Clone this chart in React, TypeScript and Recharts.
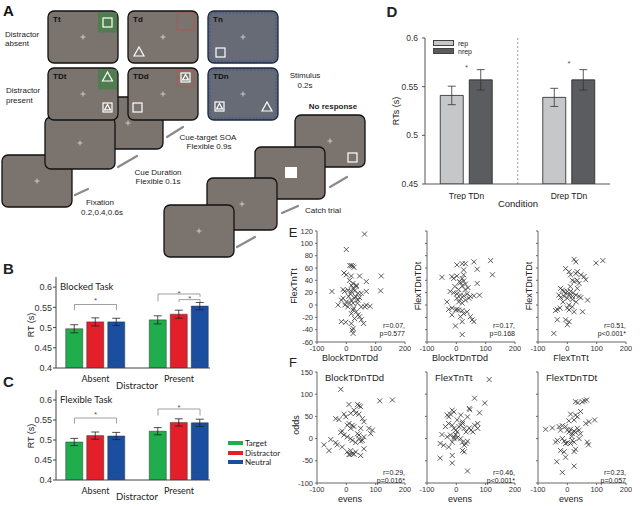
import React from 'react'
import {
  BarChart, Bar, XAxis, YAxis, ErrorBar, ReferenceLine, ReferenceDot,
  ScatterChart, Scatter,
} from 'recharts'

const FONT = '"Liberation Sans", Arial, sans-serif'
const MYRIAD = 'Lato, "Liberation Sans", sans-serif'
const INK = '#222'

// ---- panel B / C : RT by distractor condition ----
const distractorGroups = ['Absent', 'Present']
const seriesNames = ['Target', 'Distractor', 'Neutral']
const seriesColors = ['#1fae4b', '#e3202a', '#1b4e9e']

const blockedTarget = [0.497, 0.519]
const blockedTargetErr = [0.010, 0.010]
const blockedDistractor = [0.514, 0.533]
const blockedDistractorErr = [0.010, 0.010]
const blockedNeutral = [0.514, 0.553]
const blockedNeutralErr = [0.009, 0.009]

const flexTarget = [0.495, 0.522]
const flexTargetErr = [0.009, 0.009]
const flexDistractor = [0.511, 0.544]
const flexDistractorErr = [0.009, 0.009]
const flexNeutral = [0.510, 0.543]
const flexNeutralErr = [0.009, 0.009]

const rtTicks = [0.4, 0.45, 0.5, 0.55, 0.6]

// brackets: [xFrom, xTo, yTop, yLeftEnd, yRightEnd]
const blockedBrackets = [
  [-0.2515, 0.2515, 0.557, 0.543, 0.543],
  [0.7485, 1.2515, 0.583, 0.565, 0.576],
  [1.0, 1.2515, 0.569, 0.563, 0.563],
]
const blockedStars = [[0, 0.568], [1.0, 0.585], [1.13, 0.571]]
const flexBrackets = [
  [-0.2515, 0.2515, 0.555, 0.541, 0.541],
  [0.7485, 1.2515, 0.5775, 0.561, 0.561],
]
const flexStars = [[0, 0.565], [1.0, 0.582]]

// ---- panel D : repetition ----
const conditions = ['Trep TDn', 'Drep TDn']
const repRT = [0.541, 0.539]
const repErr = [0.0095, 0.0093]
const nrepRT = [0.557, 0.557]
const nrepErr = [0.0105, 0.0105]
const repStars = [[0, 0.570], [1, 0.574]]

// ---- panel E : cross-task correlations ----
const eBlockVsFlexTn = [
  [62, 115], [0, 90], [12, 64], [17, 64], [22, 63], [26, 61], [-8, 52], [0, 49], [17, 47], [45, 47],
  [68, 38], [119, 47], [117, 23], [-49, 22], [68, 22], [-11, 25], [-6, 22], [6, 24], [17, 22], [23, 27],
  [34, 30], [28, 23], [40, 19], [11, 40], [23, 35], [17, 32], [34, 32], [-17, 8], [-28, 0], [-11, 11],
  [0, 5], [11, 3], [23, 3], [28, 11], [40, 8], [51, 19], [51, -3], [63, -3], [68, 0], [81, -2],
  [34, -11], [40, -16], [23, -8], [17, -14], [45, -19], [-17, -27], [-2, -28], [17, -30], [51, -24], [59, -30],
  [23, -38], [20, -41], [23, -46], [28, -22], [8, 14], [14, 18], [31, 14], [5, -3], [-5, 0], [38, 3],
  [25, -5], [45, 12], [17, 8],
]
const eBlockVsFlexTDn = [
  [60, 70], [117, 72], [20, 67], [31, 67], [2, 65], [71, 58], [25, 57], [123, 49], [-49, 45], [-15, 46],
  [-9, 43], [2, 47], [20, 43], [25, 39], [14, 36], [31, 34], [20, 31], [11, 38], [25, 49], [71, 35],
  [-21, 22], [-9, 20], [2, 18], [14, 16], [25, 15], [37, 18], [48, 14], [60, 15], [79, 16], [31, 8],
  [43, 11], [8, 5], [20, 3], [2, 11], [-32, 5], [-26, -7], [-15, -5], [-2, -8], [2, -7], [8, -8],
  [20, -9], [37, -11], [25, -14], [-15, -16], [14, -19], [48, -19], [54, -24], [60, -27], [20, -27], [-3, -34],
  [20, -48], [8, 25], [30, 25], [15, 10], [-5, 30], [40, 28],
]
const eFlexTnVsFlexTDn = [
  [23, 74], [29, 70], [121, 72], [98, 68], [-6, 59], [6, 54], [11, 49], [29, 51], [34, 54], [46, 49],
  [57, 46], [63, 41], [17, 40], [23, 38], [34, 40], [40, 35], [-23, 27], [-17, 24], [-11, 22], [-6, 19],
  [0, 22], [6, 16], [11, 22], [17, 14], [29, 16], [34, 27], [-29, 16], [-23, 12], [-11, 14], [0, 11],
  [17, 9], [40, 14], [46, 12], [69, 8], [-34, -7], [-40, -9], [0, -5], [6, -8], [17, -3], [23, -11],
  [52, -11], [-34, -24], [-6, -24], [6, -27], [0, -32], [-46, -46], [10, 30], [20, 20], [-15, 5], [30, 5],
  [5, 0], [-25, -5],
]

// ---- panel F : split-half reliability ----
const fBlockTDnTDd = [
  [-19, 111], [114, 85], [157, 87], [9, 77], [38, 77], [43, 74], [49, 72], [-36, 45], [-25, 43], [-8, 55],
  [-2, 49], [15, 57], [26, 64], [32, 57], [43, 55], [55, 45], [60, 38], [-19, 14], [-14, 17], [3, 30],
  [9, 34], [20, 30], [15, 23], [26, 27], [38, 11], [43, 8], [49, 23], [60, 4], [77, 23], [83, 11],
  [89, 19], [-76, -14], [-53, -2], [-59, -27], [-36, -9], [-31, -14], [-8, 8], [3, 4], [15, 0], [20, -4],
  [32, -9], [43, 0], [49, -6], [55, -4], [-14, -19], [3, -30], [9, -36], [15, -27], [20, -34], [32, -30],
  [49, -38], [60, -23], [12, -36], [26, -35],
]
const fFlexTnTt = [
  [112, 133], [62, 91], [44, 68], [46, 65], [97, 80], [-14, 64], [-8, 60], [-31, 53], [-26, 49], [-20, 55],
  [15, 53], [3, 42], [21, 38], [38, 49], [79, 58], [-37, 27], [-26, 34], [-14, 30], [-8, 23], [-2, 19],
  [3, 15], [9, 27], [15, 30], [21, 34], [27, 23], [33, 15], [44, 24], [50, 19], [56, 15], [62, 30],
  [73, 34], [73, 23], [-49, 9], [-31, 4], [-20, 8], [-8, 4], [-2, 9], [3, 2], [15, 0], [-55, -11],
  [-43, -15], [-26, -19], [-14, -8], [-8, 0], [21, -8], [27, -15], [33, -11], [38, -6], [21, -27], [27, -30],
  [-55, -44], [-14, -38], [-14, -55], [38, -73],
]
const fFlexTDnTDt = [
  [28, 83], [36, 81], [51, 83], [59, 85], [66, 87], [11, 55], [28, 53], [34, 49], [23, 42], [45, 61],
  [63, 34], [74, 38], [93, 42], [-74, 21], [-51, 24], [-28, 27], [-23, 19], [-17, 29], [-6, 27], [0, 19],
  [6, 15], [11, 21], [17, 11], [23, 17], [28, 14], [34, 23], [40, 19], [45, 11], [-40, -8], [-34, -4],
  [-17, 0], [-11, -6], [-6, -11], [0, -9], [11, -11], [17, -4], [23, -8], [68, -8], [72, -14], [-23, -27],
  [-11, -30], [-6, -42], [23, -29], [28, -24], [-36, -52], [23, -62], [-17, -76], [5, 40], [15, 5], [40, 0],
]

const scatterXTicks = [-100, 0, 100, 200]
const eYTicks = [-60, -40, -20, 0, 20, 40, 60, 80, 100, 120]
const fYTicks = [-100, -50, 0, 50, 100, 150]

function Txt({ x, y, children, size = 9, anchor = 'middle', weight = 400, family = FONT, color = INK }: any) {
  const tx = anchor === 'middle' ? '-50%' : anchor === 'end' ? '-100%' : '0'
  return (
    <div style={{
      position: 'absolute', left: x, top: y, fontSize: size, fontFamily: family, fontWeight: weight,
      color, lineHeight: 1, whiteSpace: 'nowrap', transform: `translate(${tx}, -50%)`,
    }}>{children}</div>
  )
}

function RotTxt({ x, y, children, size = 9, family = FONT }: any) {
  return (
    <div style={{
      position: 'absolute', left: x, top: y, fontSize: size, fontFamily: family, color: INK,
      lineHeight: 1, whiteSpace: 'nowrap', transform: 'translate(-50%, -50%) rotate(-90deg)',
    }}>{children}</div>
  )
}

// ---------- panel A schematic ----------
const GRAY = '#7b746e'
const BLUEGRAY = '#676b76'

function Plus({ x, y }: any) {
  return <path d={`M${x - 2.5},${y}H${x + 2.5}M${x},${y - 2.5}V${y + 2.5}`} stroke="#ddd" strokeWidth={0.8} />
}
function Sq({ x, y, s = 9 }: any) {
  return <rect x={x} y={y} width={s} height={s} fill="none" stroke="#fff" strokeWidth={1.2} />
}
function Tri({ cx, y, s = 10 }: any) {
  return <polygon points={`${cx},${y} ${cx - s / 2},${y + s * 0.9} ${cx + s / 2},${y + s * 0.9}`} fill="none" stroke="#fff" strokeWidth={1.2} />
}
function SqTri({ x, y }: any) {
  return <g><Sq x={x} y={y} /><Tri cx={x + 4.5} y={y + 1.5} s={6} /></g>
}
function Screen({ x, y, blue = false, cross = true, label, children }: any) {
  return (
    <g>
      <rect x={x} y={y} width={70} height={52} rx={6} fill={blue ? BLUEGRAY : GRAY} stroke={blue ? '#1c2640' : '#111'} strokeWidth={1.3} />
      {blue && <rect x={x + 2} y={y + 2} width={66} height={48} rx={5} fill="none" stroke="#3d5599" strokeWidth={0.9} strokeDasharray="2 1.5" />}
      {cross && <Plus x={x + 35} y={y + 26} />}
      {label && <text x={x + 5} y={y + 11} fontSize={8} fontWeight={700} fontFamily={FONT} fill="#111">{label}</text>}
      {children}
    </g>
  )
}
function Arrow({ x1, y1, x2, y2 }: any) {
  return <line x1={x1} y1={y1} x2={x2} y2={y2} stroke="#8a8a8a" strokeWidth={2.2} strokeLinecap="round" />
}

function PanelA() {
  const t = (x: number, y: number, s: string, extra: any = {}) => (
    <text x={x} y={y} fontSize={8} fontFamily={FONT} fill={INK} textAnchor="middle" dominantBaseline="central" {...extra}>{s}</text>
  )
  return (
    <svg width={400} height={265} style={{ position: 'absolute', left: 0, top: 0 }}>
      <text x={3} y={16} fontSize={15} fontWeight={700} fontFamily={FONT} fill="#111">A</text>
      {/* cascade left */}
      <Screen x={93} y={97} />
      <Screen x={2} y={155} />
      <Screen x={45} y={117} />
      {/* cascade right */}
      <Screen x={295} y={115}><Sq x={348} y={153} /></Screen>
      <Screen x={255} y={147} cross={false}><rect x={285} y={167} width={12} height={11} fill="#fff" /></Screen>
      <Screen x={207} y={178} />
      <Screen x={164} y={205} />
      {/* stimulus displays */}
      <Screen x={48} y={11} label="Tt">
        <rect x={98} y={12.5} width={19} height={20} fill="#4f7d50" />
        <Sq x={103} y={18} />
      </Screen>
      <Screen x={128} y={11} label="Td">
        <rect x={177} y={13} width={17} height={17} fill="none" stroke="#e03a3a" strokeWidth={0.9} strokeDasharray="1.3 1.3" />
        <Tri cx={139} y={47} />
      </Screen>
      <Screen x={208} y={11} blue label="Tn"><Sq x={216} y={48} /></Screen>
      <Screen x={48} y={68} label="TDt">
        <rect x={98} y={69.5} width={19} height={20} fill="#4f7d50" />
        <Tri cx={107.5} y={72} />
        <SqTri x={103} y={103} />
      </Screen>
      <Screen x={128} y={68} label="TDd">
        <rect x={177} y={70} width={17} height={17} fill="none" stroke="#e03a3a" strokeWidth={0.9} strokeDasharray="1.3 1.3" />
        <SqTri x={181} y={73} />
        <Sq x={133} y={103} />
      </Screen>
      <Screen x={208} y={68} blue label="TDn">
        <SqTri x={215} y={102} />
        <Tri cx={267} y={102} />
      </Screen>
      <Arrow x1={75} y1={195} x2={88} y2={189} />
      <Arrow x1={118} y1={167} x2={137} y2={156} />
      <Arrow x1={167} y1={137} x2={183} y2={127} />
      <Arrow x1={282} y1={213} x2={298} y2={206} />
      <Arrow x1={330} y1={187} x2={347} y2={177} />
      <Arrow x1={237} y1={247} x2={255} y2={237} />
      {t(5, 34, 'Distractor', { textAnchor: 'start' })}
      {t(5, 43, 'absent', { textAnchor: 'start' })}
      {t(6, 90, 'Distractor', { textAnchor: 'start' })}
      {t(6, 100, 'present', { textAnchor: 'start' })}
      {t(305, 75, 'Stimulus')}
      {t(305, 85, '0.2s')}
      {t(333, 106, 'No response', { fontWeight: 700 })}
      {t(208, 137, 'Cue-target SOA')}
      {t(209, 146, 'Flexible 0.9s')}
      {t(158, 172, 'Cue Duration')}
      {t(158, 181, 'Flexible 0.1s')}
      {t(100, 202, 'Fixation')}
      {t(102, 212, '0.2,0.4,0.6s')}
      {t(305, 210, 'Catch trial', { textAnchor: 'start' })}
    </svg>
  )
}

// ---------- B / C bars ----------
function starShape(size: number) {
  return (p: any) => (
    <text x={p.cx} y={p.cy} textAnchor="middle" dominantBaseline="central" fontSize={size} fontFamily={FONT} fill="#555">*</text>
  )
}

function TaskBars({ top, plotH, t, te, d, de, n, ne, brackets, stars }: any) {
  const data = distractorGroups.map((g, i) => ({
    x: i, target: t[i], targetErr: te[i], distractor: d[i], distractorErr: de[i], neutral: n[i], neutralErr: ne[i],
  }))
  const keys = ['target', 'distractor', 'neutral']
  return (
    <div style={{ position: 'absolute', left: 26, top }}>
      <BarChart width={186} height={plotH + 18} data={data} margin={{ top: 0, right: 2, bottom: 0, left: 0 }} barGap={4} barSize={17}>
        <XAxis type="number" dataKey="x" domain={[-0.473, 1.371]} allowDataOverflow ticks={[0, 1]} interval={0}
          tickFormatter={(v: number) => distractorGroups[v]} tickLine={false} height={18} tickMargin={2}
          stroke="#444" tick={{ fontSize: 9, fill: INK, fontFamily: MYRIAD }} />
        <YAxis type="number" domain={[0.4, 0.625]} allowDataOverflow ticks={rtTicks} interval={0} width={30}
          tickSize={3} tickMargin={1} stroke="#444" tick={{ fontSize: 9, fill: '#333', fontFamily: FONT }} />
        {keys.map((k, i) => (
          <Bar key={k} dataKey={k} fill={seriesColors[i]} stroke="#333" strokeWidth={0.5} isAnimationActive={false}>
            <ErrorBar dataKey={k + 'Err'} direction="y" width={4} stroke="#222" strokeWidth={0.8} />
          </Bar>
        ))}
        {brackets.map((b: number[], i: number) => (
          <React.Fragment key={i}>
            <ReferenceLine segment={[{ x: b[0], y: b[2] }, { x: b[1], y: b[2] }]} stroke="#888" strokeWidth={0.8} ifOverflow="visible" />
            <ReferenceLine segment={[{ x: b[0], y: b[2] }, { x: b[0], y: b[3] }]} stroke="#888" strokeWidth={0.8} ifOverflow="visible" />
            <ReferenceLine segment={[{ x: b[1], y: b[2] }, { x: b[1], y: b[4] }]} stroke="#888" strokeWidth={0.8} ifOverflow="visible" />
          </React.Fragment>
        ))}
        {stars.map((s: number[], i: number) => (
          <ReferenceDot key={i} x={s[0]} y={s[1]} r={1} ifOverflow="visible" shape={starShape(8)} />
        ))}
      </BarChart>
    </div>
  )
}

// ---------- D bars ----------
function RepBars() {
  const data = conditions.map((c, i) => ({ x: i, rep: repRT[i], repErr: repErr[i], nrep: nrepRT[i], nrepErr: nrepErr[i] }))
  return (
    <div style={{ position: 'absolute', left: 395, top: 32 }}>
      <BarChart width={220} height={168} data={data} margin={{ top: 6, right: 5, bottom: 0, left: 0 }} barGap={6} barSize={23}>
        <XAxis type="number" dataKey="x" domain={[-0.405, 1.4]} allowDataOverflow ticks={[0, 1]} interval={0}
          tickFormatter={(v: number) => conditions[v]} tickLine={false} height={16} tickMargin={3}
          stroke="#555" tick={{ fontSize: 8.5, fill: INK, fontFamily: FONT }} />
        <YAxis type="number" domain={[0.45, 0.6]} allowDataOverflow ticks={[0.45, 0.5, 0.55, 0.6]} interval={0} width={30}
          tickSize={3} tickMargin={4} stroke="#555" tick={{ fontSize: 8.5, fill: '#333', fontFamily: FONT }} />
        <ReferenceLine x={0.5} stroke="#999" strokeWidth={1} strokeDasharray="2 2" />
        <Bar dataKey="rep" fill="#c6c7c9" stroke="#222" strokeWidth={0.8} isAnimationActive={false}>
          <ErrorBar dataKey="repErr" direction="y" width={4} stroke="#333" strokeWidth={0.8} />
        </Bar>
        <Bar dataKey="nrep" fill="#5b5c60" stroke="#222" strokeWidth={0.8} isAnimationActive={false}>
          <ErrorBar dataKey="nrepErr" direction="y" width={4} stroke="#333" strokeWidth={0.8} />
        </Bar>
        {repStars.map((s, i) => (
          <ReferenceDot key={i} x={s[0]} y={s[1]} r={1} ifOverflow="visible" shape={starShape(8)} />
        ))}
      </BarChart>
    </div>
  )
}

// ---------- scatter panels ----------
function XMark(p: any) {
  const { cx, cy } = p
  const s = 2.5
  return <path d={`M${cx - s},${cy - s}L${cx + s},${cy + s}M${cx - s},${cy + s}L${cx + s},${cy - s}`} stroke="#333" strokeWidth={0.8} fill="none" />
}
const noTick = () => <g />

function ScatterPanel({ left, top, points, yDomain, yTicks, yLabels }: any) {
  const data = points.map(([x, y]: number[]) => ({ x, y }))
  return (
    <div style={{ position: 'absolute', left: left - 30, top: top - 4 }}>
      <ScatterChart width={124} height={129} margin={{ top: 4, right: 6, bottom: 0, left: 0 }}>
        <XAxis type="number" dataKey="x" domain={[-100, 200]} allowDataOverflow ticks={scatterXTicks} interval={0}
          height={14} tickSize={2} tickMargin={2} stroke="#666" tick={{ fontSize: 7.5, fill: '#333', fontFamily: FONT }} />
        <YAxis type="number" dataKey="y" domain={yDomain} allowDataOverflow ticks={yTicks} interval={0} width={30}
          tickSize={2} tickMargin={2} stroke="#666" tick={yLabels ? { fontSize: 7.5, fill: '#333', fontFamily: FONT } : noTick} />
        <Scatter data={data} shape={XMark} isAnimationActive={false} />
      </ScatterChart>
    </div>
  )
}

const ePanels = [
  { left: 317, points: eBlockVsFlexTn, yLabel: 'FlexTnTt', xLabel: 'BlockTDnTDd', r: 'r=0.07,', p: 'p=0.577' },
  { left: 427, points: eBlockVsFlexTDn, yLabel: 'FlexTDnTDt', xLabel: 'BlockTDnTDd', r: 'r=0.17,', p: 'p=0.168' },
  { left: 538, points: eFlexTnVsFlexTDn, yLabel: 'FlexTDnTDt', xLabel: 'FlexTnTt', r: 'r=0.51,', p: 'p<0.001*' },
]
const fPanels = [
  { left: 317, points: fBlockTDnTDd, title: 'BlockTDnTDd', r: 'r=0.29,', p: 'p=0.016*' },
  { left: 427, points: fFlexTnTt, title: 'FlexTnTt', r: 'r=0.46,', p: 'p<0.001*' },
  { left: 538, points: fFlexTDnTDt, title: 'FlexTDnTDt', r: 'r=0.23,', p: 'p=0.057' },
]

export default function App() {
  return (
    <div style={{ position: 'absolute', left: 0, top: 0, width: 640, height: 506, background: '#fff', overflow: 'hidden', fontFamily: FONT }}>
      <PanelA />

      {/* B */}
      <Txt x={3} y={268} size={15} weight={700} anchor="start">B</Txt>
      <TaskBars top={277} plotH={91} t={blockedTarget} te={blockedTargetErr} d={blockedDistractor} de={blockedDistractorErr}
        n={blockedNeutral} ne={blockedNeutralErr} brackets={blockedBrackets} stars={blockedStars} />
      <Txt x={60} y={287} size={9.5} anchor="start" family={MYRIAD}>Blocked Task</Txt>
      <RotTxt x={31} y={325} size={9}>RT (s)</RotTxt>
      <Txt x={137} y={386} size={9.5} family={MYRIAD}>Distractor</Txt>

      {/* C */}
      <Txt x={3} y={381} size={15} weight={700} anchor="start">C</Txt>
      <TaskBars top={390} plotH={90} t={flexTarget} te={flexTargetErr} d={flexDistractor} de={flexDistractorErr}
        n={flexNeutral} ne={flexNeutralErr} brackets={flexBrackets} stars={flexStars} />
      <Txt x={60} y={400} size={9.5} anchor="start" family={MYRIAD}>Flexible Task</Txt>
      <RotTxt x={31} y={436} size={9}>RT (s)</RotTxt>
      <Txt x={137} y={497} size={9.5} family={MYRIAD}>Distractor</Txt>
      {seriesNames.map((s, i) => (
        <React.Fragment key={s}>
          <div style={{ position: 'absolute', left: 228, top: 441 + i * 9.5, width: 15, height: 4, background: seriesColors[i] }} />
          <Txt x={245} y={443 + i * 9.5} size={8} anchor="start" family={MYRIAD}>{s}</Txt>
        </React.Fragment>
      ))}

      {/* D */}
      <Txt x={392} y={11} size={15} weight={700}>D</Txt>
      <RepBars />
      <RotTxt x={396} y={111} size={9}>RTs (s)</RotTxt>
      <Txt x={518} y={204} size={9.5}>Condition</Txt>
      <div style={{ position: 'absolute', left: 433, top: 40, width: 21, height: 6, background: '#c6c7c9', border: '0.8px solid #444', boxSizing: 'border-box' }} />
      <div style={{ position: 'absolute', left: 433, top: 48, width: 21, height: 6, background: '#5b5c60', border: '0.8px solid #444', boxSizing: 'border-box' }} />
      <Txt x={458} y={43} size={7} anchor="start">rep</Txt>
      <Txt x={458} y={51} size={7} anchor="start">nrep</Txt>

      {/* E */}
      <Txt x={293} y={232} size={13}>E</Txt>
      {ePanels.map((e, i) => (
        <React.Fragment key={i}>
          <ScatterPanel left={e.left} top={231} points={e.points} yDomain={[-60, 120]} yTicks={eYTicks} yLabels={i === 0} />
          <RotTxt x={e.left - (i === 0 ? 23 : 9)} y={286} size={9}>{e.yLabel}</RotTxt>
          <Txt x={e.left + 33} y={358} size={9}>{e.xLabel}</Txt>
          <Txt x={e.left + 88} y={325} size={7} anchor="end">{e.r}</Txt>
          <Txt x={e.left + 88} y={333} size={7} anchor="end">{e.p}</Txt>
        </React.Fragment>
      ))}

      {/* F */}
      <Txt x={293} y={362} size={13}>F</Txt>
      {fPanels.map((f, i) => (
        <React.Fragment key={i}>
          <ScatterPanel left={f.left} top={372} points={f.points} yDomain={[-100, 150]} yTicks={fYTicks} yLabels={i === 0} />
          <Txt x={f.left + 8} y={378} size={9.5} anchor="start">{f.title}</Txt>
          <Txt x={f.left + 33} y={499} size={9}>evens</Txt>
          <Txt x={f.left + 88} y={472} size={7} anchor="end">{f.r}</Txt>
          <Txt x={f.left + 88} y={480} size={7} anchor="end">{f.p}</Txt>
        </React.Fragment>
      ))}
      <RotTxt x={296} y={425} size={9}>odds</RotTxt>
    </div>
  )
}
